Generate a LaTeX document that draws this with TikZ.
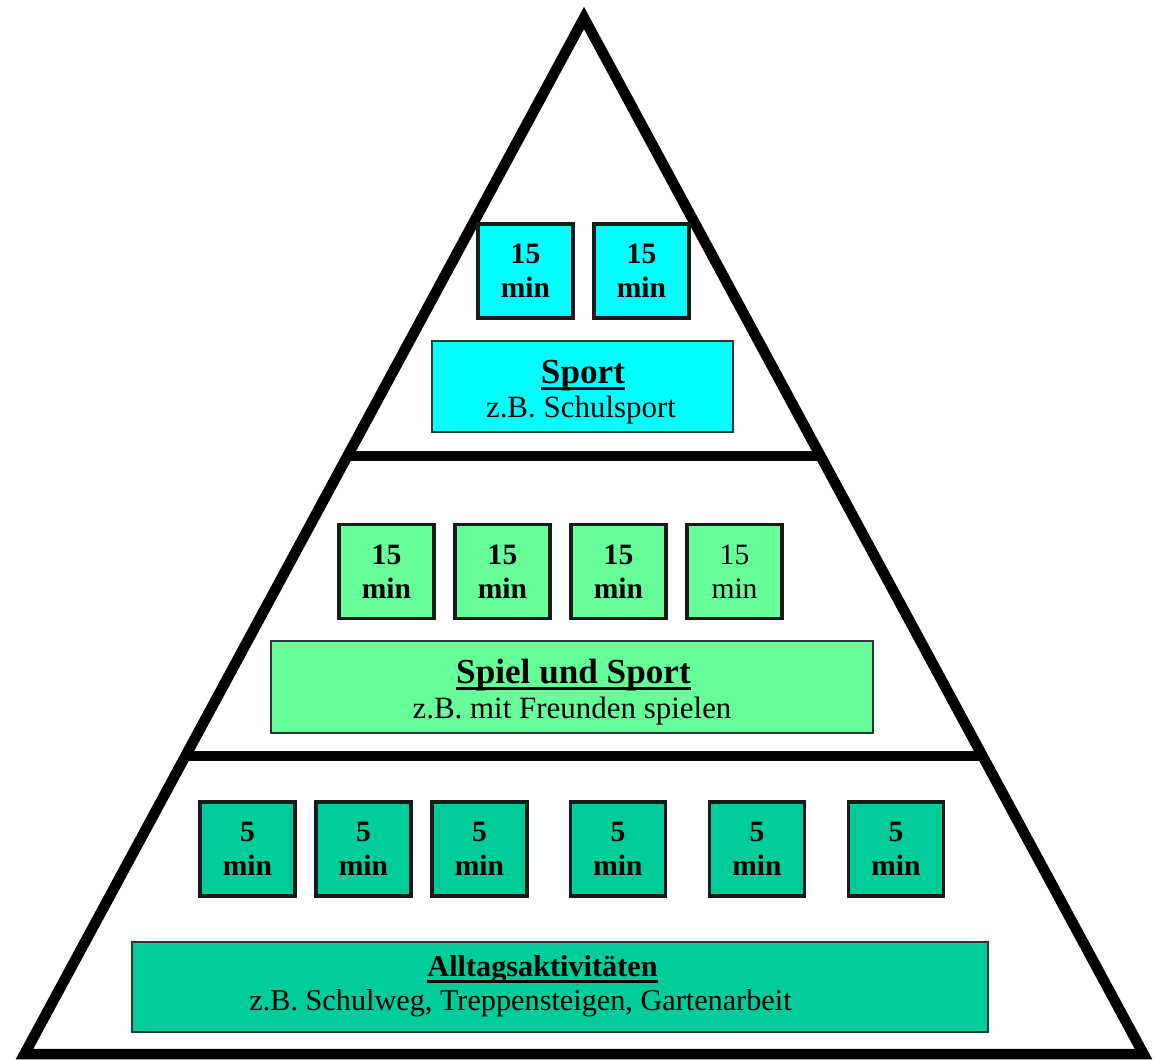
\documentclass[tikz,border=0pt]{standalone}
\usepackage{fontspec}
\setmainfont{Liberation Serif}
\usetikzlibrary{calc}

\definecolor{sportcyan}{RGB}{0,255,255}
\definecolor{spielgreen}{RGB}{102,255,153}
\definecolor{alltaggreen}{RGB}{0,204,153}

% underline that runs through the descenders
\newcommand{\headline}[1]{\setbox0=\hbox{#1}\rlap{\rule[-1.9pt]{\wd0}{0.9pt}}\box0}

\begin{document}
\begin{tikzpicture}[
    x=0.01cm, y=-0.01cm,
    edge/.style={line width=3pt, line join=miter},
    minbox/.style={draw=black!90, line width=1pt, minimum width=0.95cm, minimum height=0.94cm,
        inner sep=0pt, align=center, font=\fontsize{8.4}{9.7}\selectfont\bfseries},
    levelbox/.style={draw=black!80, line width=0.5pt, inner sep=0pt},
    title/.style={anchor=base, font=\fontsize{10}{12}\selectfont\bfseries},
    example/.style={anchor=base, font=\fontsize{8.8}{10}\selectfont}
]
\useasboundingbox (0,0) rectangle (1157,1059);

% Pyramid outline
\coordinate (apex) at (584,18);
\coordinate (baseL) at (24.5,1054);
\coordinate (baseR) at (1143.5,1054);
\draw[edge] (apex) -- (baseL) -- (baseR) -- cycle;

% Level dividers
\coordinate (upL) at ($(apex)!0.4228!(baseL)$);
\coordinate (upR) at ($(apex)!0.4228!(baseR)$);
\coordinate (lowL) at ($(apex)!0.7124!(baseL)$);
\coordinate (lowR) at ($(apex)!0.7124!(baseR)$);
\draw[edge] (upL) -- (upR);
\draw[edge] (lowL) -- (lowR);

% Top level: Sport
\foreach \x [count=\i] in {525.5,641.5}
    \node[minbox, fill=sportcyan] (sport\i) at (\x,271) {15\\min};
\node[levelbox, fill=sportcyan, minimum width=3.01cm, minimum height=0.91cm] (sportbox) at (582.5,386.5) {};
\node[title] (sporttitle) at (583,383) {\headline{Sport}};
\node[example] (sportex) at (581,417) {z.B. Schulsport};

% Middle level: Spiel und Sport
\foreach \x [count=\i] in {386.5,502.5,618.5}
    \node[minbox, fill=spielgreen] (spiel\i) at (\x,571.5) {15\\min};
\node[minbox, fill=spielgreen, font=\fontsize{8.4}{9.7}\selectfont] (spiel4) at (734.5,571.5) {15\\min};
\node[levelbox, fill=spielgreen, minimum width=6.02cm, minimum height=0.92cm] (spielbox) at (572,687) {};
\node[title] (spieltitle) at (573.5,683) {\headline{Spiel und Sport}};
\node[example] (spielex) at (572,718) {z.B. mit Freunden spielen};

% Bottom level: Alltag
\foreach \x [count=\i] in {247.5,363.5,479.5,618,757,896}
    \node[minbox, fill=alltaggreen] (alltag\i) at (\x,849) {5\\min};
\node[levelbox, fill=alltaggreen, minimum width=8.56cm, minimum height=0.90cm] (alltagbox) at (560,987) {};
\node[title, font=\fontsize{8.6}{10}\selectfont\bfseries] (alltagtitle) at (542.5,976) {\headline{Alltagsaktivitäten}};
\node[example, font=\fontsize{8.6}{10}\selectfont] (alltagex) at (520.5,1010) {z.B. Schulweg, Treppensteigen, Gartenarbeit};

\end{tikzpicture}
\end{document}
